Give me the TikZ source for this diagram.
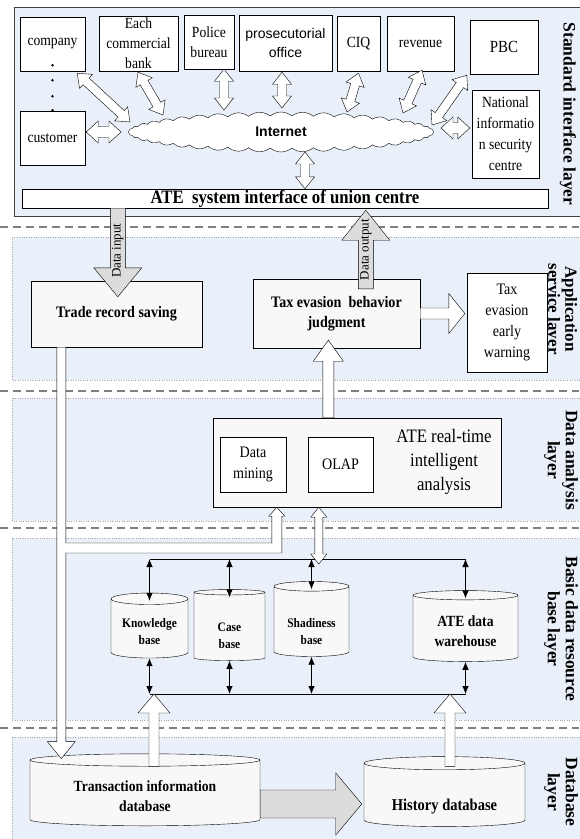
\documentclass[tikz,border=0pt]{standalone}
\usepackage{fontspec}
\setmainfont[FakeStretch=0.88]{Liberation Serif}
\newfontfamily\sansfnt{Liberation Sans}
\newfontfamily\layerfnt{Liberation Serif}
\usetikzlibrary{calc,shapes.geometric,shapes.symbols,arrows.meta}

\definecolor{layerblue}{HTML}{EAF0F9}
\definecolor{boxgray}{HTML}{F8F8F8}
\definecolor{arrowgray}{HTML}{DCDCDC}

% block arrow: [fill]{from}{to}{shaft}{head}{head length}
\newcommand{\blockarrow}[6][white]{%
  \coordinate (ba-h) at ($(#3)!#6!(#2)$);
  \draw[fill=#1] ($(#2)!#4!90:(#3)$) -- ($(ba-h)!#4!-90:(#2)$) -- ($(ba-h)!#5!-90:(#2)$)
    -- (#3) -- ($(ba-h)!#5!90:(#2)$) -- ($(ba-h)!#4!90:(#2)$) -- ($(#2)!#4!-90:(#3)$) -- cycle;
}
% double block arrow: {from}{to}{shaft}{head}{head length}
\newcommand{\dblarrow}[5]{%
  \coordinate (da-a) at ($(#1)!#5!(#2)$);
  \coordinate (da-b) at ($(#2)!#5!(#1)$);
  \draw[fill=white] (#1) -- ($(da-a)!#4!90:(#2)$) -- ($(da-a)!#3!90:(#2)$) -- ($(da-b)!#3!-90:(#1)$)
    -- ($(da-b)!#4!-90:(#1)$) -- (#2) -- ($(da-b)!#4!90:(#1)$) -- ($(da-b)!#3!90:(#1)$)
    -- ($(da-a)!#3!-90:(#2)$) -- ($(da-a)!#4!-90:(#2)$) -- cycle;
}
% cylinder text, lowered into the body
\newcommand{\dbtxt}[2]{\raisebox{-#1}[\height][\depth]{\begin{tabular}{@{}c@{}}#2\end{tabular}}}

\begin{document}
\begin{tikzpicture}[x=1pt,y=-1pt,
    layer/.style={fill=layerblue, draw=gray!70, dotted},
    sepline/.style={draw=gray, line width=1.5pt, dash pattern=on 8pt off 5pt},
    box/.style={draw, fill=white, inner sep=1pt, align=center, font=\fontsize{15.5}{20}\selectfont},
    pbox/.style={draw, fill=boxgray, inner sep=1pt, align=center, font=\bfseries\fontsize{16}{20}\selectfont},
    db/.style={cylinder, shape border rotate=90, draw, fill=boxgray, inner sep=0pt,
      font=\bfseries\fontsize{13}{17}\selectfont},
    layertext/.style={rotate=-90, align=center, font=\layerfnt\bfseries\fontsize{17.5}{18}\selectfont},
    dbl/.style={{Latex[length=8pt,width=6.5pt]}-{Latex[length=8pt,width=6.5pt]}, line width=0.8pt}]

  \useasboundingbox[fill=white] (0,0) rectangle (579,839);

  % layer panels
  \draw[fill=layerblue, draw=black!75] (14,7) rectangle (600,216);
  \draw[layer] (12,237) rectangle (600,380);
  \draw[layer] (12,398) rectangle (600,521);
  \draw[layer] (12,538) rectangle (600,720);
  \draw[layer] (12,737) rectangle (600,860);
  \foreach \y in {227,391,528,728}
    \draw[sepline] (0,\y) -- (579,\y);

  % layer names
  \node[layertext] (l-std) at (568,114) {Standard interface layer};
  \node[layertext, inner sep=0pt, font=\layerfnt\bfseries\fontsize{17}{17}\selectfont] (l-app) at (561,309) {Application\\service layer};
  \node[layertext] (l-ana) at (561,460) {Data analysis\\layer};
  \node[layertext] (l-bas) at (561,629) {Basic data resource\\base layer};
  \node[layertext] (l-dbs) at (561,792) {Database\\layer};

  % standard interface layer
  \node[box, minimum width=65, minimum height=54] (company) at (52.5,44) {company};
  \node[box, minimum width=65, minimum height=54] (customer) at (52.5,138) {customer};
  \foreach \dy in {-6,9,25,39}
    \fill ($(company.south)+(0,\dy)$) circle (1.3);
  \node[box, minimum width=79, minimum height=55] (bank) at (138.5,43.5) {};
  \node[align=center, font=\fontsize{15.5}{20}\selectfont] (bank-t) at (bank) {Each\\commercial\\bank};
  \node[box, minimum width=50, minimum height=54] (police) at (209,42) {Police\\bureau};
  \node[box, minimum width=93, minimum height=56, font=\sansfnt\fontsize{14}{19}\selectfont] (pros) at (285.5,43) {prosecutorial\\office};
  \node[box, minimum width=43, minimum height=55] (ciq) at (358.5,43.5) {CIQ};
  \node[box, minimum width=67, minimum height=55] (rev) at (420.5,43.5) {revenue};
  \node[box, minimum width=68, minimum height=54, font=\fontsize{17}{20}\selectfont] (pbc) at (504,47) {PBC};
  \node[box, minimum width=67, minimum height=88, font=\fontsize{15.5}{21}\selectfont] (nisc) at (505.5,134) {National\\informatio\\n security\\centre};
  \node[cloud, draw, fill=white, cloud puffs=44, cloud puff arc=80, aspect=7, minimum width=305,
    minimum height=40, inner sep=0pt, font=\sansfnt\bfseries\fontsize{14}{16}\selectfont] (net) at (281,132) {Internet};
  \node[draw, fill=white, minimum width=526, minimum height=19, inner sep=0pt, text height=12pt, text depth=3pt,
    font=\bfseries\fontsize{19}{20}\selectfont] (iface) at (285,198.5) {ATE\ \ system interface of union centre};

  \coordinate (c1a) at ($(company.south east)+(-8,2)$);
  \coordinate (c1b) at ($(net.center)+(-151,-10)$);
  \coordinate (c2a) at ($(bank.south)+(-0.5,1)$);
  \coordinate (c2b) at ($(net.center)+(-118,-17)$);
  \coordinate (c3a) at ($(police.south)+(15,0)$);
  \coordinate (c3b) at ($(net.center)+(-57,-22)$);
  \coordinate (c4a) at ($(pros.south)+(-3.5,1)$);
  \coordinate (c4b) at ($(net.center)+(1,-24)$);
  \coordinate (c5a) at ($(ciq.south)+(0,2)$);
  \coordinate (c5b) at ($(net.center)+(66,-20)$);
  \coordinate (c6a) at ($(rev.south)+(1.5,-1)$);
  \coordinate (c6b) at ($(net.center)+(122,-19)$);
  \coordinate (c7a) at ($(pbc.south west)+(-3,1)$);
  \coordinate (c7b) at ($(net.center)+(151,-7)$);
  \coordinate (c8a) at ($(customer.east)+(1,-6)$);
  \coordinate (c8b) at ($(net.center)+(-160,0)$);
  \coordinate (c9a) at ($(nisc.west)+(-2,-6)$);
  \coordinate (c9b) at ($(net.center)+(160,-4)$);
  \coordinate (c10a) at ($(net.center)+(24,20)$);
  \coordinate (c10b) at ($(iface.north)+(20,0)$);
  \foreach \a/\b in {c1a/c1b,c2a/c2b,c3a/c3b,c4a/c4b,c5a/c5b,c6a/c6b,c7a/c7b,c10a/c10b}
    \dblarrow{\a}{\b}{4.5pt}{9.5pt}{12pt};
  \dblarrow{c8a}{c8b}{5.5pt}{11pt}{12pt}
  \dblarrow{c9a}{c9b}{5.5pt}{11pt}{12pt}

  % application service layer
  \node[pbox, minimum width=171, minimum height=66] (trade) at (116.5,314) {Trade record saving};
  \node[pbox, minimum width=167, minimum height=69] (tax) at (336.5,313.5) {Tax evasion\ \ behavior\\judgment};
  \node[box, minimum width=80, minimum height=99, font=\fontsize{16}{21}\selectfont] (warn) at (507,322.5) {Tax\\evasion\\early\\warning};

  \coordinate (din-a) at ($(iface.south west)+(96,0)$);
  \coordinate (din-b) at ($(trade.north west)+(87,16)$);
  \blockarrow[arrowgray]{din-a}{din-b}{7.5pt}{24pt}{29pt}
  \node[rotate=90, font=\layerfnt\fontsize{13}{13}\selectfont] (din-t) at ($(din-a)!0.48!(din-b)$) {Data input};
  \coordinate (dout-a) at ($(tax.north west)+(113,10)$);
  \coordinate (dout-b) at ($(iface.south west)+(344,2)$);
  \blockarrow[arrowgray]{dout-a}{dout-b}{7.5pt}{24pt}{30pt}
  \node[rotate=90, font=\layerfnt\fontsize{13}{13}\selectfont] (dout-t) at ($(dout-a)!0.5!(dout-b)$) {Data output};
  \coordinate (tw-b) at ($(tax.east -| warn.west)+(-2,0)$);
  \blockarrow{tax.east}{tw-b}{5.5pt}{20pt}{16pt}

  % data analysis layer
  \node[draw, fill=boxgray, minimum width=288, minimum height=89] (ana) at (357,462.5) {};
  \node[box, minimum width=66, minimum height=55, font=\fontsize{16}{21}\selectfont] (mine) at (253,464.5) {Data\\mining};
  \node[box, minimum width=65, minimum height=55, font=\fontsize{16}{21}\selectfont] (olap) at (340.5,464.5) {OLAP};
  \node[align=center, font=\fontsize{19}{24}\selectfont] (ana-t) at (444,462) {ATE real-time\\intelligent\\analysis};
  \coordinate (at-a) at ($(ana.north west)+(115.5,0)$);
  \coordinate (at-b) at ($(tax.south west)+(75.5,-8)$);
  \blockarrow{at-a}{at-b}{5.5pt}{15pt}{21pt}

  % basic data resource base layer
  \coordinate (tbus) at (0,559);
  \coordinate (bbus) at (0,694);
  \node[db, minimum width=77, minimum height=65, aspect=0.21] (kb) at (149.5,628.5) {\dbtxt{4pt}{Knowledge\\base}};
  \node[db, minimum width=71, minimum height=71, aspect=0.23] (cb) at (229.5,626.5) {\dbtxt{10pt}{Case\\base}};
  \node[db, minimum width=75, minimum height=75, aspect=0.2] (sb) at (311.5,621.5) {\dbtxt{11pt}{Shadiness\\base}};
  \node[db, minimum width=105, minimum height=71, aspect=0.15, font=\bfseries\fontsize{15.5}{20}\selectfont] (wh) at (465.5,628.5) {\dbtxt{4pt}{ATE data\\warehouse}};
  \draw (kb |- tbus) -- (wh |- tbus);
  \draw (kb |- bbus) -- (wh |- bbus);
  \foreach \c in {kb,cb,sb,wh}{
    \draw[dbl] (\c |- tbus) -- ($(\c.north)+(0,8)$);
    \draw[dbl] (\c.south) -- (\c |- bbus);
  }
  \coordinate (ab-a) at ($(ana.south west)+(106,0)$);
  \coordinate (ab-b) at ($(ab-a |- tbus)+(0,5)$);
  \dblarrow{ab-a}{ab-b}{4pt}{8pt}{10pt}

  % database layer
  \node[db, minimum width=230, minimum height=72, aspect=0.087, font=\bfseries\fontsize{15.5}{20}\selectfont] (trans) at (145,793) {\dbtxt{4pt}{Transaction information\\database}};
  \node[db, minimum width=161, minimum height=70, aspect=0.125, font=\bfseries\fontsize{16.5}{20}\selectfont] (hist) at (444.5,795) {\dbtxt{11pt}{History database}};
  \coordinate (th-a) at ($(trans.east)+(0,11)$);
  \coordinate (th-b) at ($(th-a -| hist.west)+(-2,0)$);
  \blockarrow[arrowgray]{th-a}{th-b}{14pt}{31pt}{26pt}
  \coordinate (tu-a) at ($(trans.north)+(9,13)$);
  \coordinate (tu-b) at (tu-a |- bbus);
  \blockarrow{tu-a}{tu-b}{5pt}{16pt}{19pt}
  \coordinate (hu-a) at ($(hist.north)+(5.5,10)$);
  \coordinate (hu-b) at (hu-a |- bbus);
  \blockarrow{hu-a}{hu-b}{5pt}{16pt}{19pt}

  % trade records down to the database, branch into the analysis
  \coordinate (pipe-t) at ($(trade.south west)+(30.5,0)$);
  \coordinate (pipe-e) at ($(pipe-t |- trans.north)+(0,5)$);
  \coordinate (mine-in) at ($(ana.south west)+(64,0)$);
  \coordinate (br) at (0,548);
  \draw[fill=white] ($(pipe-t)+(-4.5,0)$) -- ($(pipe-e)+(-4.5,-17)$) -- ($(pipe-e)+(-14,-17)$) -- (pipe-e)
    -- ($(pipe-e)+(14,-17)$) -- ($(pipe-e)+(4.5,-17)$) -- ($(pipe-t |- br)+(4.5,5)$)
    -- ($(mine-in |- br)+(5,5)$) -- ($(mine-in)+(5,9)$) -- ($(mine-in)+(8,9)$) -- (mine-in)
    -- ($(mine-in)+(-8,9)$) -- ($(mine-in)+(-5,9)$) -- ($(mine-in |- br)+(-5,-5)$)
    -- ($(pipe-t |- br)+(4.5,-5)$) -- ($(pipe-t)+(4.5,0)$) -- cycle;
\end{tikzpicture}
\end{document}
